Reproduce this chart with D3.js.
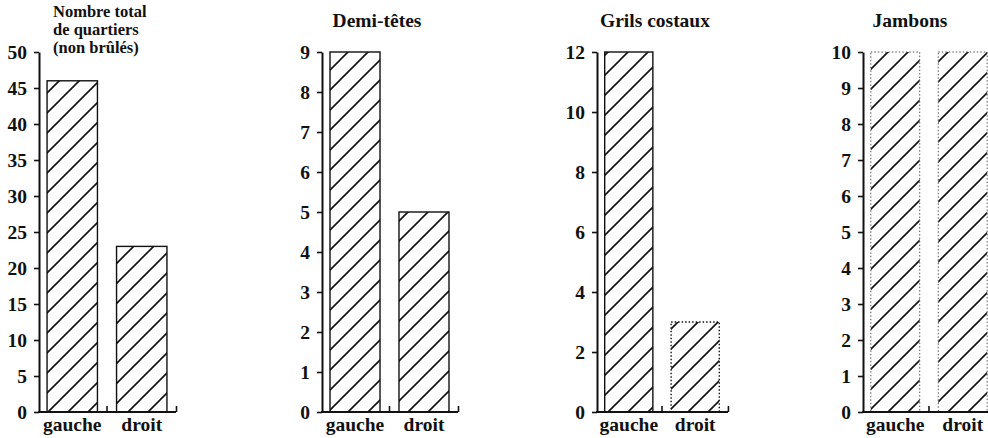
<!DOCTYPE html>
<html><head><meta charset="utf-8">
<script src="https://cdn.jsdelivr.net/npm/d3@7/dist/d3.min.js"></script>
<style>
html,body{margin:0;padding:0;background:#fff;}
svg{display:block;}
text{font-family:"Liberation Serif","Times New Roman",serif;font-weight:bold;fill:#111;}
</style></head>
<body>
<script>
// ---- data ----
const categories = ["gauche", "droit"];
const panelTitles = [["Nombre total", "de quartiers", "(non brûlés)"], ["Demi-têtes"], ["Grils costaux"], ["Jambons"]];
const gaucheValues = [46, 9, 12, 10];
const droitValues = [23, 5, 3, 10];
const yMax = [50, 9, 12, 10];
const yTicks = [
  [0, 5, 10, 15, 20, 25, 30, 35, 40, 45, 50],
  [0, 1, 2, 3, 4, 5, 6, 7, 8, 9],
  [0, 2, 4, 6, 8, 10, 12],
  [0, 1, 2, 3, 4, 5, 6, 7, 8, 9, 10]
];

// ---- layout (not data) ----
const W = 988, H = 438;
const axisX = [39, 322, 597, 863];
const panelW = [136, 135, 130, 132];
const y0 = 412, y1 = 52;
const FS = 19.5;
const TFS = 16.5;

const svg = d3.select("body").append("svg").attr("width", W).attr("height", H);
const defs = svg.append("defs");
const pat = defs.append("pattern").attr("id", "hatch")
  .attr("patternUnits", "userSpaceOnUse").attr("width", 20).attr("height", 20);
pat.append("path")
  .attr("d", "M-5,5 L5,-5 M0,20 L20,0 M15,25 L25,15")
  .attr("stroke", "#111").attr("stroke-width", 1.6).attr("fill", "none");

panelTitles.forEach((title, i) => {
  const a = axisX[i];
  const g = svg.append("g");
  const y = d3.scaleLinear().domain([0, yMax[i]]).range([y0, y1]);
  const x = d3.scaleBand().domain(categories).range([a, a + panelW[i]])
    .paddingInner(0.275).paddingOuter(0.116);
  const vals = [gaucheValues[i], droitValues[i]];

  // bars
  const dotted = i === 3;
  g.selectAll("rect.bar").data(categories).join("rect")
    .attr("class", "bar")
    .attr("x", d => x(d))
    .attr("width", x.bandwidth())
    .attr("y", (d, j) => y(vals[j]))
    .attr("height", (d, j) => y(0) - y(vals[j]))
    .attr("fill", "url(#hatch)")
    .attr("stroke", dotted ? "#555" : "#111")
    .attr("stroke-width", dotted ? 1 : 1.4)
    .attr("stroke-dasharray", (d, j) => (dotted || (i === 2 && j === 1)) ? "1.5,2" : null);

  // y axis
  const yAxis = d3.axisLeft(y).tickValues(yTicks[i]).tickSize(5).tickSizeOuter(0).tickPadding(7);
  const ya = g.append("g").attr("transform", `translate(${a},0)`).call(yAxis);
  ya.attr("font-size", null).attr("font-family", null);
  ya.select(".domain").attr("stroke", "#111").attr("stroke-width", 2);
  ya.selectAll(".tick line").attr("stroke", "#111").attr("stroke-width", 1.6);
  ya.selectAll(".tick text").attr("fill", "#111")
    .style("font-size", FS + "px")
    .style("font-family", '"Liberation Serif","Times New Roman",serif').style("font-weight", "bold");

  // x baseline with upward ticks between/after categories
  const xEnd = x.range()[1];
  g.append("line").attr("x1", a - 1).attr("x2", xEnd + 1).attr("y1", y0).attr("y2", y0)
    .attr("stroke", "#111").attr("stroke-width", 2);
  const step = x.step();
  categories.forEach(c => {
    const tx = x(c) + x.bandwidth() + step * x.paddingInner() / 2;
    g.append("line").attr("x1", tx).attr("x2", tx).attr("y1", y0).attr("y2", y0 - 6)
      .attr("stroke", "#111").attr("stroke-width", 1.6);
  });

  // category labels
  g.selectAll("text.cat").data(categories).join("text")
    .attr("class", "cat")
    .attr("x", d => x(d) + x.bandwidth() / 2)
    .attr("y", 431)
    .attr("text-anchor", "middle")
    .style("font-size", FS + "px")
    .text(d => d);

  // titles
  if (title.length > 1) {
    const t = g.append("text").attr("x", a + 14).attr("y", 16.5)
      .style("font-size", TFS + "px").attr("text-anchor", "start");
    title.forEach((line, k) => {
      t.append("tspan").attr("x", a + 14).attr("dy", k === 0 ? 0 : 18.4).text(line);
    });
  } else {
    const offs = [0, 55, 58, 47];
    g.append("text").attr("x", a + offs[i]).attr("y", 27)
      .style("font-size", FS + "px").attr("text-anchor", "middle").text(title[0]);
  }
});
</script>
</body></html>
